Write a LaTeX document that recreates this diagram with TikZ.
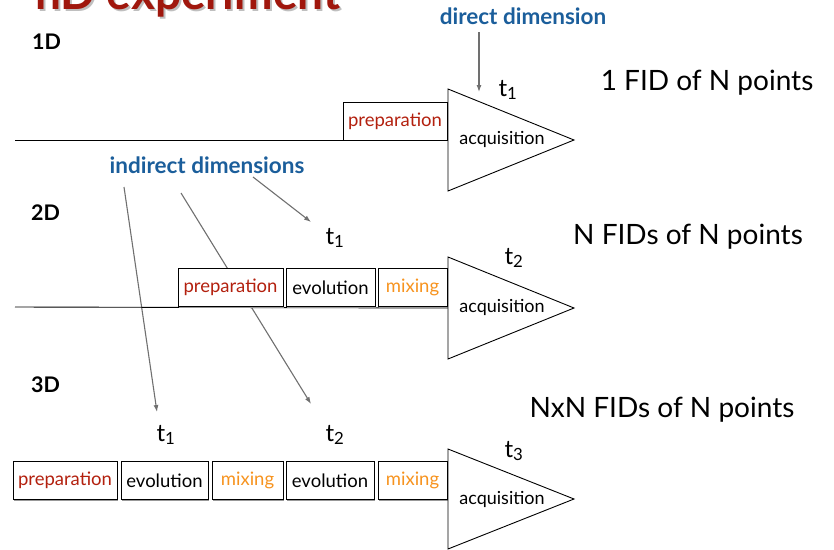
\documentclass[tikz,border=0pt]{standalone}
\usepackage{fontspec}
\setmainfont{Lato}
\usetikzlibrary{arrows.meta,shadows}
\definecolor{prepred}{HTML}{B3200E}
\definecolor{mixorange}{HTML}{F7931E}
\definecolor{dimblue}{HTML}{1B5E9B}
\definecolor{titlered}{HTML}{A0170D}
\definecolor{pointgray}{HTML}{707070}
\tikzstyle{block}=[draw=black, fill=white, line width=0.9pt, minimum height=38pt, inner sep=0pt, font=\fontsize{18.5}{21}\selectfont, drop shadow={shadow xshift=1.2pt, shadow yshift=-1.2pt, fill=black!40, opacity=1}]
\tikzstyle{acq}=[draw=black, fill=white, line width=0.9pt]
\tikzstyle{base}=[draw=black, line width=0.9pt]
\tikzstyle{pointer}=[draw=pointgray, line width=1.1pt, -{Latex[length=7pt,width=5pt]}]
\tikzstyle{tlab}=[inner sep=0pt, font=\fontsize{24}{26}\selectfont]
\tikzstyle{dlab}=[inner sep=0pt, anchor=base west, font=\fontsize{21.5}{24}\selectfont\bfseries]
\tikzstyle{fid}=[inner sep=0pt, font=\fontsize{28}{32}\selectfont]
\tikzstyle{dimlab}=[inner sep=0pt, text=dimblue, font=\fontsize{22.5}{25}\selectfont\bfseries]
\tikzstyle{acqtext}=[inner sep=0pt, font=\fontsize{18}{21}\selectfont]

\begin{document}
\begin{tikzpicture}[x=1pt,y=-1pt]
\useasboundingbox (0,0) rectangle (834,549);
\node[anchor=base west, inner sep=0pt, text=black!25, font=\fontsize{46}{50}\selectfont\bfseries] (titleshadow) at (37,11) {nD experiment};
\node[anchor=base west, inner sep=0pt, text=titlered, font=\fontsize{46}{50}\selectfont\bfseries] (title) at (35,9) {nD experiment};

\node[dlab] (d1) at (32,49) {1D};
\node[dlab] (d2) at (31,220) {2D};
\node[dlab] (d3) at (31,392) {3D};

\node[dimlab] (dirdim) at (523,16) {direct dimension};
\node[dimlab] (indim) at (207,165) {indirect dimensions};

\coordinate (dd0) at (479,32);
\coordinate (dd1) at (479,92);
\coordinate (ia0) at (124,187);
\coordinate (ia1) at (157,412);
\coordinate (ib0) at (181,193);
\coordinate (ib1) at (311,404);
\coordinate (ic0) at (253,177);
\coordinate (ic1) at (311,222);
\draw[pointer] (dd0) -- (dd1);
\draw[pointer] (ia0) -- (ia1);
\draw[pointer] (ib0) -- (ib1);
\draw[pointer] (ic0) -- (ic1);

\coordinate (s1) at (15,140);
\coordinate (s2) at (15,307);
\coordinate (a1t) at (448,89);
\coordinate (a1p) at (574,140);
\coordinate (a1b) at (448,191);
\coordinate (a2t) at (448,257);
\coordinate (a2p) at (574,308);
\coordinate (a2b) at (448,359);
\coordinate (a3t) at (448,449);
\coordinate (a3p) at (574,499);
\coordinate (a3b) at (448,549);
\draw[base] (s1) -- (a1p -| a1t);
\draw[base] (s2) -- (a2p -| a2t);

\node[block, minimum width=104pt, text=prepred] (prep1) at (395,121) {preparation};

\node[block, minimum width=105pt, text=prepred] (prep2) at (230.5,287.5) {preparation};
\node[block, minimum width=89pt] (evol2) at (330.5,287.5) {evolution};
\node[block, minimum width=69pt, text=mixorange] (mix2) at (412.5,287.5) {mixing};

\node[block, minimum width=104pt, text=prepred] (prep3) at (65,480.5) {preparation};
\node[block, minimum width=87pt] (evol3a) at (164.5,480.5) {evolution};
\node[block, minimum width=71pt, text=mixorange] (mix3a) at (247.5,480.5) {mixing};
\node[block, minimum width=88pt] (evol3b) at (330,480.5) {evolution};
\node[block, minimum width=69pt, text=mixorange] (mix3b) at (412.5,480.5) {mixing};

\draw[acq] (a1t) -- (a1p) -- (a1b) -- cycle;
\draw[acq] (a2t) -- (a2p) -- (a2b) -- cycle;
\draw[acq] (a3t) -- (a3p) -- (a3b) -- cycle;
\node[acqtext] (acq1) at (502,139) {acquisition};
\node[acqtext] (acq2) at (502,307) {acquisition};
\node[acqtext] (acq3) at (502,499) {acquisition};

\node[tlab] (t11) at (508,90) {t\textsubscript{1}};
\node[tlab] (t21) at (335,238) {t\textsubscript{1}};
\node[tlab] (t22) at (514,258) {t\textsubscript{2}};
\node[tlab] (t31) at (166,435) {t\textsubscript{1}};
\node[tlab] (t32) at (335,435) {t\textsubscript{2}};
\node[tlab] (t33) at (514,451) {t\textsubscript{3}};

\node[fid] (fid1) at (707,83) {1 FID of N points};
\node[fid] (fid2) at (688,237) {N FIDs of N points};
\node[fid] (fid3) at (662,410) {NxN FIDs of N points};
\end{tikzpicture}
\end{document}
